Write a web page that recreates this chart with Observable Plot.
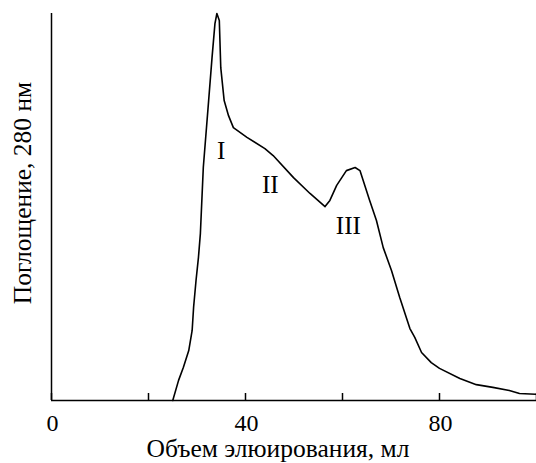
<!DOCTYPE html>
<html>
<head>
<meta charset="utf-8">
<script src="https://cdn.jsdelivr.net/npm/d3@7"></script>
<script src="https://cdn.jsdelivr.net/npm/@observablehq/plot@0.6"></script>
<style>
  html, body { margin: 0; padding: 0; background: white; }
</style>
</head>
<body>
<div id="chart"></div>
<script>
// Elution volume (ml)
const volume = [25.0, 26.2, 27.2, 28.3, 29.0, 29.3, 29.8, 30.3, 30.7, 31.3, 32.4, 33.1, 33.7, 34.1, 34.6, 34.9, 35.6, 36.5, 37.5, 40.3, 44.0, 45.7, 49.9, 53.3, 56.4, 57.4, 58.8, 60.8, 62.6, 63.6, 65.6, 67.0, 68.4, 70.1, 71.8, 73.9, 74.9, 76.3, 78.3, 80.0, 84.2, 87.6, 91.0, 94.4, 96.5, 99.8];
// Absorbance at 280 nm (relative)
const absorbance = [0.0, 0.052, 0.086, 0.129, 0.181, 0.241, 0.310, 0.370, 0.432, 0.602, 0.775, 0.886, 0.974, 1.0, 0.982, 0.860, 0.775, 0.736, 0.705, 0.680, 0.651, 0.633, 0.576, 0.535, 0.501, 0.517, 0.556, 0.594, 0.602, 0.594, 0.517, 0.465, 0.395, 0.336, 0.266, 0.186, 0.163, 0.124, 0.098, 0.083, 0.057, 0.041, 0.034, 0.026, 0.018, 0.016];
// Peak labels
const peakNames = ["I", "II", "III"];
const peakX = [35.0, 45.1, 61.2];
const peakY = [0.644, 0.556, 0.452];
// Axis ticks
const tickValues = [0, 20, 40, 60, 80, 100];
const tickLabels = [0, 40, 80];
const xTitle = "Объем элюирования, мл";
const yTitle = "Поглощение, 280 нм";

const curve = volume.map((v, i) => ({x: v, y: absorbance[i]}));
const peaks = peakNames.map((n, i) => ({name: n, x: peakX[i], y: peakY[i]}));

const font = "Liberation Serif, Times New Roman, serif";

const chart = Plot.plot({
  width: 536,
  height: 463,
  marginLeft: 51,
  marginRight: 0,
  marginTop: 13,
  marginBottom: 63,
  style: {fontFamily: font, fontSize: "24px", color: "black", background: "white", overflow: "visible"},
  x: {domain: [0, 100]},
  y: {domain: [0, 1]},
  marks: [
    Plot.ruleX([0], {stroke: "black", strokeWidth: 1.5}),
    Plot.ruleY([0], {stroke: "black", strokeWidth: 1.5}),
    Plot.axisX({ticks: tickValues, tickSize: -7, tickFormat: () => "", label: null, stroke: "black", strokeWidth: 1.5}),
    Plot.axisX({ticks: tickLabels, tickSize: 0, tickPadding: 13, fontSize: 24, fill: "black", label: null, dx: 1}),
    Plot.axisY({ticks: [], tickSize: 0, label: null}),
    Plot.text([yTitle], {frameAnchor: "left", textAnchor: "middle", lineAnchor: "middle", rotate: -90, dx: -29, dy: -14, fontSize: 25.5, fill: "black", fontFamily: font}),
    Plot.text([xTitle], {frameAnchor: "bottom", textAnchor: "middle", lineAnchor: "middle", dx: -16, dy: 48, fontSize: 25.5, fill: "black", fontFamily: font}),
    Plot.line(curve, {x: "x", y: "y", stroke: "black", strokeWidth: 1.6}),
    Plot.text(peaks, {x: "x", y: "y", text: "name", fontSize: 25, fill: "black", fontFamily: font})
  ]
});
document.getElementById("chart").appendChild(chart);
</script>
</body>
</html>
